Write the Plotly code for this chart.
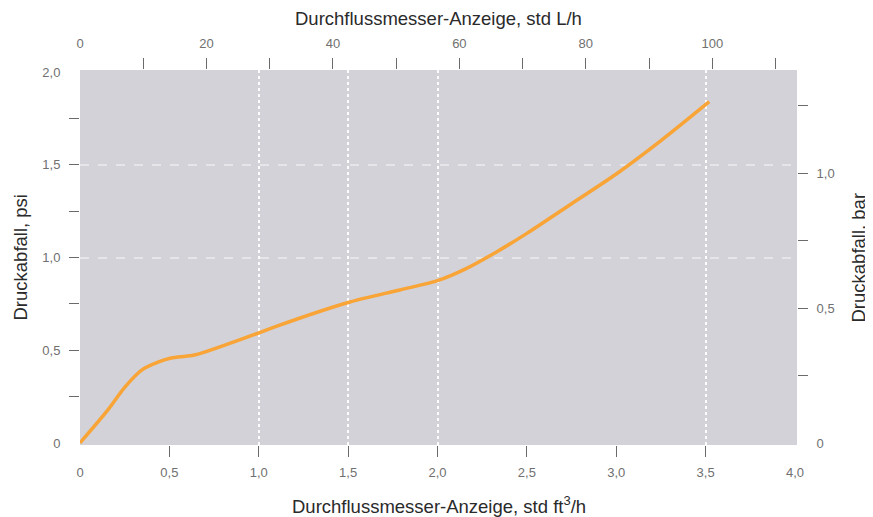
import plotly.graph_objects as go

# Data: flow (std ft3/h) vs pressure drop (psi)
flow_ft3h = [0, 0.156, 0.25, 0.345, 0.44, 0.51, 0.64, 0.81, 1.0, 1.09, 1.51, 1.79, 2.0, 2.16, 2.33, 2.5, 2.75, 3.0, 3.25, 3.52]
drop_psi = [0, 0.178, 0.30, 0.393, 0.437, 0.458, 0.474, 0.528, 0.593, 0.626, 0.76, 0.825, 0.875, 0.94, 1.03, 1.13, 1.29, 1.45, 1.63, 1.84]

bottom_ticks = [0, 0.5, 1.0, 1.5, 2.0, 2.5, 3.0, 3.5, 4.0]
bottom_labels = ["0", "0,5", "1,0", "1,5", "2,0", "2,5", "3,0", "3,5", "4,0"]
bottom_marks = [0.5, 1.0, 1.5, 2.0, 2.5, 3.0, 3.5]
bottom_grid = [1.0, 1.5, 2.0, 3.5]

top_ticks = [0, 20, 40, 60, 80, 100]
top_labels = ["0", "20", "40", "60", "80", "100"]
top_marks = [10, 20, 30, 40, 50, 60, 70, 80, 90, 100, 110]

left_ticks = [0, 0.5, 1.0, 1.5, 2.0]
left_labels = ["0", "0,5", "1,0", "1,5", "2,0"]
left_marks = [0.25, 0.5, 0.75, 1.0, 1.25, 1.5, 1.75]
left_grid = [1.0, 1.5]

right_ticks = [0, 0.5, 1.0]
right_labels = ["0", "0,5", "1,0"]
right_marks = [0.25, 0.5, 0.75, 1.0, 1.25]

title_bottom = "Durchflussmesser-Anzeige, std ft<sup>3</sup>/h"
title_top = "Durchflussmesser-Anzeige, std L/h"
title_left = "Druckabfall, psi"
title_right = "Druckabfall, bar"

X_RANGE = [0, 4.011]
TOP_RANGE = [0, 113.4]
Y_RANGE = [-0.011, 2.011]
R_RANGE = [-0.0074, 1.3815]

FONT = "Liberation Sans, Arial, sans-serif"
TICK_FONT = dict(family=FONT, size=13, color="#707070")
TITLE_FONT = dict(family=FONT, size=18.5, color="#2a2a2a")
TICK_COLOR = "#6a6a6a"

fig = go.Figure()
fig.add_trace(go.Scatter(
    x=flow_ft3h, y=drop_psi, mode="lines",
    line=dict(color="#F8A437", width=3.5, shape="spline", smoothing=0.8),
    showlegend=False, hoverinfo="skip",
))

# empty traces binding the overlay axes so that they are drawn
for xa, ya in [("x3", "y"), ("x4", "y"), ("x2", "y"), ("x5", "y"),
               ("x", "y3"), ("x", "y4"), ("x", "y2"), ("x", "y5")]:
    fig.add_trace(go.Scatter(x=[], y=[], xaxis=xa, yaxis=ya, mode="lines",
                             showlegend=False, hoverinfo="skip"))

base = dict(showgrid=False, zeroline=False, showline=False, automargin=False)

fig.update_layout(
    width=873, height=517,
    # page body adds an 8px offset; margins compensate so the plot sits at 80..797 x 70..445
    margin=dict(l=72, r=84, t=62, b=80),
    paper_bgcolor="white",
    plot_bgcolor="#d2d2d8",
    showlegend=False,
    xaxis=dict(range=X_RANGE, tickvals=bottom_ticks, ticktext=bottom_labels,
               ticks="outside", ticklen=15, tickcolor="rgba(0,0,0,0)",
               tickfont=TICK_FONT, **base),
    xaxis3=dict(range=X_RANGE, overlaying="x", anchor="y", side="bottom",
                tickvals=bottom_marks, ticks="outside", ticklen=11, tickwidth=1.3,
                tickcolor=TICK_COLOR, showticklabels=False, **base),
    xaxis4=dict(range=X_RANGE, overlaying="x", anchor="y", side="bottom",
                tickvals=bottom_grid, ticks="", showticklabels=False,
                showgrid=True, gridcolor="rgba(255,255,255,0.95)", gridwidth=2, griddash="dot",
                zeroline=False, showline=False, automargin=False, layer="below traces"),
    xaxis2=dict(range=TOP_RANGE, overlaying="x", anchor="y", side="top",
                tickvals=top_ticks, ticktext=top_labels,
                ticks="outside", ticklen=16, tickcolor="rgba(0,0,0,0)",
                tickfont=TICK_FONT, **base),
    xaxis5=dict(range=TOP_RANGE, overlaying="x", anchor="y", side="top",
                tickvals=top_marks, ticks="outside", ticklen=11, tickwidth=1.3,
                tickcolor=TICK_COLOR, showticklabels=False, **base),
    yaxis=dict(range=Y_RANGE, tickvals=left_ticks, ticktext=left_labels,
               ticks="outside", ticklen=16, tickcolor="rgba(0,0,0,0)",
               tickfont=TICK_FONT, **base),
    yaxis3=dict(range=Y_RANGE, overlaying="y", anchor="x", side="left",
                tickvals=left_marks, ticks="outside", ticklen=10, tickwidth=1.3,
                tickcolor=TICK_COLOR, showticklabels=False, **base),
    yaxis4=dict(range=Y_RANGE, overlaying="y", anchor="x", side="left",
                tickvals=left_grid, ticks="", showticklabels=False,
                showgrid=True, gridcolor="rgba(255,255,255,0.45)", gridwidth=2, griddash="dash",
                zeroline=False, showline=False, automargin=False, layer="below traces"),
    yaxis2=dict(range=R_RANGE, overlaying="y", anchor="x", side="right",
                tickvals=right_ticks, ticktext=right_labels,
                ticks="outside", ticklen=16, tickcolor="rgba(0,0,0,0)",
                tickfont=TICK_FONT, **base),
    yaxis5=dict(range=R_RANGE, overlaying="y", anchor="x", side="right",
                tickvals=right_marks, ticks="outside", ticklen=10, tickwidth=1.3,
                tickcolor=TICK_COLOR, showticklabels=False, **base),
    annotations=[
        dict(text=title_top, xref="paper", yref="paper", x=0.5, y=1, yshift=52,
             showarrow=False, font=TITLE_FONT, xanchor="center", yanchor="middle"),
        dict(text=title_bottom, xref="paper", yref="paper", x=0.5, y=0, yshift=-60,
             showarrow=False, font=TITLE_FONT, xanchor="center", yanchor="middle"),
        dict(text=title_left, xref="paper", yref="paper", x=0, xshift=-60, y=0.5,
             showarrow=False, font=TITLE_FONT, textangle=-90, xanchor="center", yanchor="middle"),
        dict(text=title_right, xref="paper", yref="paper", x=1, xshift=61, y=0.5,
             showarrow=False, font=TITLE_FONT, textangle=-90, xanchor="center", yanchor="middle"),
    ],
)

fig.write_html("out.html")
